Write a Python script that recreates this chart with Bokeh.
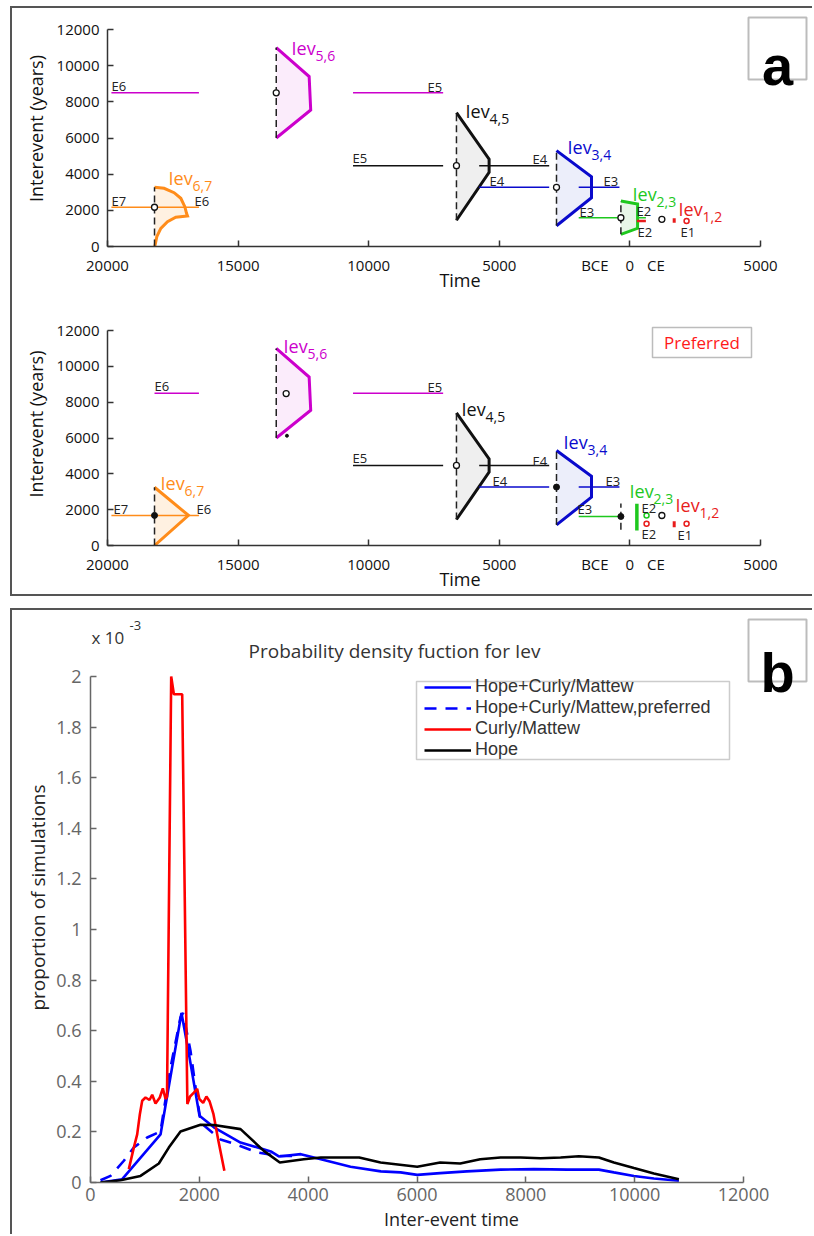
from bokeh.plotting import figure
from bokeh.layouts import column
from bokeh.models import (Range1d, FixedTicker, CustomJSTickFormatter, Label,
                          BoxAnnotation, Legend, LegendItem)
from bokeh.embed import file_html
from bokeh.resources import INLINE

FONT = "Open Sans"
BOLD_FONT = "Liberation Sans"
LEGEND_FONT = "Liberation Sans"

# ======================================================================
# DATA
# ======================================================================
# ---- panel a : calendar years (negative = BCE) vs inter-event time (years)
time_ticks = [-20000, -15000, -10000, -5000, 0, 5000]
interevent_ticks = [0, 2000, 4000, 6000, 8000, 10000, 12000]

# inter-event distributions (outline vertices) common to both sub-panels
iev56_x = [-13540, -12280, -12220, -13540]
iev56_y = [11000, 9400, 7550, 6000]
iev45_x = [-6640, -5390, -5390, -6640]
iev45_y = [7400, 4830, 4100, 1450]
iev34_x = [-2810, -1470, -1470, -2810]
iev34_y = [5300, 3860, 2700, 1150]

# -- upper sub-panel (all data)
up_iev67_x = [-18200, -17833, -17450, -17193, -17040, -16975, -16937,
              -17385, -17703, -17959, -18112, -18189]
up_iev67_y = [3274, 3218, 2975, 2665, 2201, 1836, 1687, 1615, 1371, 1006, 542, 0]
up_iev23_x = [-345, 294, 294, -345]
up_iev23_y = [2516, 2350, 1006, 675]
up_mag_x0 = [-19850, -10600]
up_mag_x1 = [-16500, -7150]
up_mag_y = [8500, 8500]
up_blk_x0 = [-10600, -5770]
up_blk_x1 = [-7150, -3090]
up_blk_y = [4470, 4470]
up_blu_x0 = [-5770, -1960]
up_blu_x1 = [-3090, -400]
up_blu_y = [3270, 3270]
up_grn_x0 = [-1960, 294]
up_grn_x1 = [-345, 612]
up_grn_y = [1590, 1590]
up_org_x0 = [-19850]
up_org_x1 = [-16500]
up_org_y = [2170]
up_red_x0 = [267]
up_red_x1 = [612]
up_red_y = [1410]
up_mean_x = [-18200, -13540, -6640, -2810, -345, 1224]
up_mean_y = [2170, 8500, 4470, 3270, 1590, 1504]
up_red_tick_x = [1696]
up_red_tick_y0 = [1317]
up_red_tick_y1 = [1560]
up_red_dot_x = [2170]
up_red_dot_y = [1410]

# -- lower sub-panel (preferred)
lo_iev67_x = [-18200, -16900, -18200]
lo_iev67_y = [3250, 1680, 0]
lo_mag_x0 = [-18200, -10600]
lo_mag_x1 = [-16500, -7150]
lo_mag_y = [8500, 8500]
lo_blk_x0 = [-10600, -5770]
lo_blk_x1 = [-7150, -3090]
lo_blk_y = [4470, 4470]
lo_blu_x0 = [-5770, -1960]
lo_blu_x1 = [-3090, -400]
lo_blu_y = [3260, 3260]
lo_grn_x0 = [-1960]
lo_grn_x1 = [-345]
lo_grn_y = [1620]
lo_org_x0 = [-19850]
lo_org_x1 = [-16500]
lo_org_y = [1680]
lo_open_x = [-13160, -6640, 1224]
lo_open_y = [8480, 4470, 1674]
lo_fill_x = [-18200, -2810, -345, -13130]
lo_fill_y = [1680, 3260, 1620, 6128]
lo_iev23_dash_x = [-345]
lo_iev23_dash_y0 = [876]
lo_iev23_dash_y1 = [2340]
lo_grn_bar_x = [267]
lo_grn_bar_y0 = [837]
lo_grn_bar_y1 = [2327]
lo_grn_dot_x = [638]
lo_grn_dot_y = [1674]
lo_red_dot_x = [638, 2170]
lo_red_dot_y = [1211, 1211]
lo_red_tick_x = [1696]
lo_red_tick_y0 = [1021]
lo_red_tick_y1 = [1356]

# ---- panel b : probability density (units of 10^-3) vs inter-event time
pdf_x_ticks = [0, 2000, 4000, 6000, 8000, 10000, 12000]
pdf_y_ticks = [0, 0.2, 0.4, 0.6, 0.8, 1.0, 1.2, 1.4, 1.6, 1.8, 2.0]

hcm_x = [184, 583, 1287, 1672, 1807, 2003, 2267, 2757, 3314, 3461, 3865, 4233,
         4778, 5336, 5698, 6004, 6426, 6916, 7536, 8148, 8761, 9342, 9618, 9986,
         10353, 10813]
hcm_y = [0.0, 0.013, 0.19, 0.67, 0.51, 0.264, 0.218, 0.158, 0.123, 0.103, 0.112,
         0.092, 0.062, 0.044, 0.040, 0.030, 0.037, 0.044, 0.051, 0.053, 0.051,
         0.051, 0.040, 0.026, 0.016, 0.007]

hcm_pref_x = [184, 368, 613, 796, 1042, 1287, 1471, 1654, 1700, 1838, 1960, 2030,
              2389, 2634, 3063, 3461, 3860]
hcm_pref_y = [0.009, 0.026, 0.086, 0.138, 0.178, 0.202, 0.455, 0.653, 0.67, 0.52,
              0.33, 0.235, 0.17, 0.154, 0.119, 0.105, 0.105]

cm_x = [704, 796, 858, 907, 950, 1011, 1085, 1134, 1195, 1274, 1329, 1379, 1406,
        1483, 1532, 1685, 1780, 1830, 1900, 1960, 2000, 2070, 2130, 2190, 2260,
        2350, 2460]
cm_y = [0.053, 0.138, 0.19, 0.27, 0.323, 0.336, 0.326, 0.347, 0.312, 0.336, 0.372,
        0.33, 0.34, 2.0, 1.93, 1.93, 0.31, 0.34, 0.355, 0.37, 0.33, 0.315, 0.34,
        0.32, 0.27, 0.165, 0.046]

hope_x = [184, 551, 919, 1256, 1439, 1654, 2022, 2267, 2757, 3185, 3479, 3920,
          4233, 4938, 5330, 6004, 6426, 6794, 7161, 7536, 7904, 8271, 8639, 8975,
          9342, 9618, 9986, 10353, 10813]
hope_y = [0.0, 0.009, 0.026, 0.075, 0.138, 0.202, 0.228, 0.227, 0.211, 0.125,
          0.079, 0.092, 0.099, 0.099, 0.079, 0.062, 0.079, 0.075, 0.092, 0.099,
          0.099, 0.096, 0.099, 0.104, 0.099, 0.079, 0.057, 0.036, 0.013]

legend_labels = ["Hope+Curly/Mattew", "Hope+Curly/Mattew,preferred",
                 "Curly/Mattew", "Hope"]

# ======================================================================
# STYLE / LAYOUT
# ======================================================================
MAG, MAG_F = "#cc00cc", "#fbecfb"
BLK, BLK_F = "#111111", "#efefef"
BLU, BLU_F = "#0a0acc", "#eceefa"
GRN, GRN_F = "#1ec81e", "#e8f6e8"
ORG, ORG_F = "#ff8c1a", "#fff1e1"
RED = "#e81c1c"
DASH_COL = "#222222"
FRAME_CSS = "2px solid #555555"

BCE_X, CE_X = -1341, 994      # positions of the era words on the time axis
FIG_W = 802                   # figure width (host incl. its 2px left border)
CANVAS_X = 12                 # page x where the canvas starts


def make_fig(fig_h, canvas_top, frame, xcal, ycal, margin, styles):
    fl, ft, fr, fb = frame
    (xa, pxa), (xb, pxb) = xcal
    (ya, pya), (yb, pyb) = ycal

    def fx(px):
        return xa + (px - pxa) * (xb - xa) / (pxb - pxa)

    def fy(py):
        return ya + (py - pya) * (yb - ya) / (pyb - pya)

    p = figure(width=FIG_W, height=fig_h,
               x_range=Range1d(fx(fl), fx(fr)), y_range=Range1d(fy(fb), fy(ft)),
               output_backend="svg", toolbar_location=None, title=None,
               frame_align=False,
               min_border_left=fl - CANVAS_X,
               min_border_right=CANVAS_X + FIG_W - fr,
               min_border_top=ft - canvas_top,
               min_border_bottom=canvas_top + fig_h - fb)
    p.xgrid.visible = False
    p.ygrid.visible = False
    p.outline_line_color = None
    p.background_fill_color = "white"
    p.border_fill_color = "white"
    p.margin = margin
    p.styles = styles
    return p, fx, fy


def style_axis(ax, ticks, label, tick_px, lab_px, tick_col, line_col, lab_col,
               tick_stand, lab_stand, bounds, fmt=None):
    ax.ticker = FixedTicker(ticks=ticks, minor_ticks=[])
    if fmt is not None:
        ax.formatter = fmt
    ax.bounds = bounds
    ax.axis_label = label
    ax.axis_line_color = line_col
    ax.axis_line_width = 1.5
    ax.major_tick_line_color = line_col
    ax.major_tick_line_width = 1.5
    ax.major_tick_in = 6
    ax.major_tick_out = 0
    ax.minor_tick_line_color = None
    ax.major_label_text_font = FONT
    ax.major_label_text_font_size = f"{tick_px}px"
    ax.major_label_text_color = tick_col
    ax.major_label_standoff = tick_stand
    ax.axis_label_text_font = FONT
    ax.axis_label_text_font_size = f"{lab_px}px"
    ax.axis_label_text_color = lab_col
    ax.axis_label_text_font_style = "normal"
    ax.axis_label_standoff = lab_stand


def text(p, fx, fy, px, py, s, size, color, align="left", baseline="middle",
         font=FONT, style="normal"):
    p.add_layout(Label(x=fx(px), y=fy(py), text=s, text_font=font,
                       text_font_size=f"{size}px", text_color=color,
                       text_align=align, text_baseline=baseline,
                       text_font_style=style))


def box(p, fx, fy, l, t, r, b, color, width):
    p.add_layout(BoxAnnotation(left=fx(l), right=fx(r), top=fy(t), bottom=fy(b),
                               fill_color=None, fill_alpha=0,
                               line_color=color, line_width=width))


def draw_iev(p, xs, ys, color, fill):
    p.patch(xs, ys, fill_color=fill, line_color=None)
    p.line(xs, ys, line_color=color, line_width=3, line_join="miter")
    p.segment(x0=[xs[0]], y0=[min(ys)], x1=[xs[0]], y1=[max(ys)],
              line_color=DASH_COL, line_width=1.5, line_dash="7 4")


def bars(p, x0, x1, y, color, width=1.5):
    p.segment(x0=x0, y0=y, x1=x1, y1=y, line_color=color, line_width=width)


def vbars(p, x, y0, y1, color, width=2.0, dash="solid"):
    p.segment(x0=x, y0=y0, x1=x, y1=y1, line_color=color, line_width=width,
              line_dash=dash)


def iev_label(p, fx, fy, sub, color, px, py):
    text(p, fx, fy, px, py, "Iev", 18, color)
    text(p, fx, fy, px + 24, py + 8, sub, 14, color)


def setup_time_axes(p):
    xa = p.xaxis[0]
    style_axis(xa, sorted(time_ticks + [BCE_X, CE_X]), "Time", 15, 18,
               "#111111", "#333333", "#111111", 8, -10, (-20000, 5000),
               CustomJSTickFormatter(args=dict(bce=BCE_X, ce=CE_X), code="""
                   if (Math.abs(tick - bce) < 1) { return "BCE"; }
                   if (Math.abs(tick - ce) < 1) { return "CE"; }
                   return Math.abs(tick).toString();"""))
    xa.ticker = FixedTicker(ticks=sorted(time_ticks + [BCE_X, CE_X]),
                            minor_ticks=time_ticks)
    xa.major_tick_line_color = None
    xa.minor_tick_line_color = "#333333"
    xa.minor_tick_line_width = 1.5
    xa.minor_tick_in = 6
    xa.minor_tick_out = 0
    style_axis(p.yaxis[0], interevent_ticks, "Interevent (years)", 15, 18,
               "#111111", "#333333", "#111111", 8, 6, (0, 12000))


# ---------------------------------------------------------------- panel a (upper)
pa1, fx1, fy1 = make_fig(
    294, 8, (107, 10, 812, 246), ((-20000, 107), (5000, 760)),
    ((0, 246), (12000, 29)), (6, 0, 0, 10),
    {"border-left": FRAME_CSS, "border-top": FRAME_CSS})
setup_time_axes(pa1)

draw_iev(pa1, up_iev67_x, up_iev67_y, ORG, ORG_F)
draw_iev(pa1, iev56_x, iev56_y, MAG, MAG_F)
draw_iev(pa1, iev45_x, iev45_y, BLK, BLK_F)
draw_iev(pa1, iev34_x, iev34_y, BLU, BLU_F)
draw_iev(pa1, up_iev23_x, up_iev23_y, GRN, GRN_F)
bars(pa1, up_mag_x0, up_mag_x1, up_mag_y, MAG)
bars(pa1, up_blk_x0, up_blk_x1, up_blk_y, BLK)
bars(pa1, up_blu_x0, up_blu_x1, up_blu_y, BLU)
bars(pa1, up_grn_x0, up_grn_x1, up_grn_y, GRN)
bars(pa1, up_org_x0, up_org_x1, up_org_y, ORG)
bars(pa1, up_red_x0, up_red_x1, up_red_y, RED, 2.5)
vbars(pa1, up_red_tick_x, up_red_tick_y0, up_red_tick_y1, RED, 3)
pa1.scatter(up_red_dot_x, up_red_dot_y, marker="circle", size=5,
            line_color=RED, fill_color="white", line_width=1.5)
pa1.scatter(up_mean_x, up_mean_y, marker="circle", size=6, line_color=BLK,
            fill_color="white", line_width=1.3)

for s, px, py in [("E6", 111, 85), ("E5", 427, 86), ("E7", 111, 200),
                  ("E6", 194, 200), ("E5", 352, 157), ("E4", 532, 158),
                  ("E4", 489, 180), ("E3", 603, 180), ("E3", 579, 211),
                  ("E2", 636, 210), ("E2", 637, 231), ("E1", 680, 231)]:
    text(pa1, fx1, fy1, px, py, s, 13, "#222222")
for sub, col, px, py in [("6,7", ORG, 168, 177), ("5,6", MAG, 291, 47),
                         ("4,5", BLK, 465, 110), ("3,4", BLU, 567, 146),
                         ("2,3", GRN, 632, 193), ("1,2", RED, 678, 208)]:
    iev_label(pa1, fx1, fy1, sub, col, px, py)
box(pa1, fx1, fy1, 748, 17, 806, 79, "#222222", 2)
text(pa1, fx1, fy1, 777, 65, "a", 56, "#000000", align="center",
     baseline="alphabetic", font=BOLD_FONT, style="bold")

# ---------------------------------------------------------------- panel a (lower)
pa2, fx2, fy2 = make_fig(
    296, 300, (107, 302, 812, 545), ((-20000, 107), (5000, 760)),
    ((0, 545), (12000, 330)), (0, 0, 0, 10),
    {"border-left": FRAME_CSS, "border-bottom": FRAME_CSS})
setup_time_axes(pa2)

draw_iev(pa2, lo_iev67_x, lo_iev67_y, ORG, ORG_F)
draw_iev(pa2, iev56_x, iev56_y, MAG, MAG_F)
draw_iev(pa2, iev45_x, iev45_y, BLK, BLK_F)
draw_iev(pa2, iev34_x, iev34_y, BLU, BLU_F)
bars(pa2, lo_mag_x0, lo_mag_x1, lo_mag_y, MAG)
bars(pa2, lo_blk_x0, lo_blk_x1, lo_blk_y, BLK)
bars(pa2, lo_blu_x0, lo_blu_x1, lo_blu_y, BLU)
bars(pa2, lo_grn_x0, lo_grn_x1, lo_grn_y, GRN)
bars(pa2, lo_org_x0, lo_org_x1, lo_org_y, ORG)
vbars(pa2, lo_iev23_dash_x, lo_iev23_dash_y0, lo_iev23_dash_y1, DASH_COL, 1.5, "7 4")
vbars(pa2, lo_grn_bar_x, lo_grn_bar_y0, lo_grn_bar_y1, GRN, 3.5)
vbars(pa2, lo_red_tick_x, lo_red_tick_y0, lo_red_tick_y1, RED, 3)
pa2.scatter(lo_grn_dot_x, lo_grn_dot_y, marker="circle", size=5,
            line_color=GRN, fill_color="white", line_width=1.5)
pa2.scatter(lo_red_dot_x, lo_red_dot_y, marker="circle", size=5,
            line_color=RED, fill_color="white", line_width=1.5)
pa2.scatter(lo_open_x, lo_open_y, marker="circle", size=6, line_color=BLK,
            fill_color="white", line_width=1.3)
pa2.scatter(lo_fill_x, lo_fill_y, marker="circle", size=[6, 6, 6, 3],
            line_color=BLK, fill_color=BLK)

for s, px, py in [("E6", 154, 385), ("E5", 427, 386), ("E7", 113, 508),
                  ("E6", 196, 508), ("E5", 352, 457), ("E4", 532, 460),
                  ("E4", 492, 480), ("E3", 605, 480), ("E3", 577, 508),
                  ("E2", 641, 507), ("E2", 641, 533), ("E1", 677, 534)]:
    text(pa2, fx2, fy2, px, py, s, 13, "#222222")
for sub, col, px, py in [("6,7", ORG, 160, 482), ("5,6", MAG, 283, 345),
                         ("4,5", BLK, 461, 408), ("3,4", BLU, 563, 441),
                         ("2,3", GRN, 629, 490), ("1,2", RED, 675, 504)]:
    iev_label(pa2, fx2, fy2, sub, col, px, py)
box(pa2, fx2, fy2, 652, 327, 751, 357, "#222222", 1.5)
text(pa2, fx2, fy2, 701.5, 342, "Preferred", 17, "#ff1a1a", align="center")

# ---------------------------------------------------------------- panel b
pb, fxb, fyb = make_fig(
    626, 610, (90, 612, 812, 1182), ((0, 90), (12000, 743)),
    ((0, 1182), (2, 676)), (12, 0, 0, 10),
    {"border-left": FRAME_CSS, "border-top": FRAME_CSS})
style_axis(pb.xaxis[0], pdf_x_ticks, "Inter-event time", 18, 18, "#666666",
           "#666666", "#222222", 5, 3, (0, 12000))
style_axis(pb.yaxis[0], pdf_y_ticks, "proportion of simulations", 18, 19,
           "#666666", "#666666", "#222222", 9, 2, (0, 2),
           CustomJSTickFormatter(code="return (Math.round(tick * 10) / 10).toString();"))

r_hcm = pb.line(hcm_x, hcm_y, line_color="#0000ff", line_width=2.6)
r_pref = pb.line(hcm_pref_x, hcm_pref_y, line_color="#0000ff", line_width=2.6,
                 line_dash="12 9")
r_cm = pb.line(cm_x, cm_y, line_color="#ff0000", line_width=2.6)
r_hope = pb.line(hope_x, hope_y, line_color="#000000", line_width=2.6)

text(pb, fxb, fyb, 394, 650, "Probability density fuction for Iev", 19,
     "#333333", align="center")
text(pb, fxb, fyb, 91, 637, "x 10", 17, "#333333")
text(pb, fxb, fyb, 129, 625, "-3", 13, "#333333")

box(pb, fxb, fyb, 416, 681, 729, 759, "#555555", 1.5)
legend = Legend(items=[LegendItem(label=legend_labels[0], renderers=[r_hcm]),
                       LegendItem(label=legend_labels[1], renderers=[r_pref]),
                       LegendItem(label=legend_labels[2], renderers=[r_cm]),
                       LegendItem(label=legend_labels[3], renderers=[r_hope])],
                location=(424 - 90, 1182 - 760), padding=0, spacing=0, margin=0,
                glyph_width=47, glyph_height=18, label_height=18,
                label_standoff=4, label_text_font=LEGEND_FONT,
                label_text_font_size="18px", label_text_color="#333333",
                border_line_color=None, background_fill_alpha=0)
pb.add_layout(legend)

box(pb, fxb, fyb, 748, 619, 806, 681, "#222222", 2)
text(pb, fxb, fyb, 777, 671.5, "b", 56, "#000000", align="center",
     baseline="alphabetic", font=BOLD_FONT, style="bold")

layout = column(pa1, pa2, pb, spacing=0)
open("out.html", "w").write(file_html(layout, INLINE))
